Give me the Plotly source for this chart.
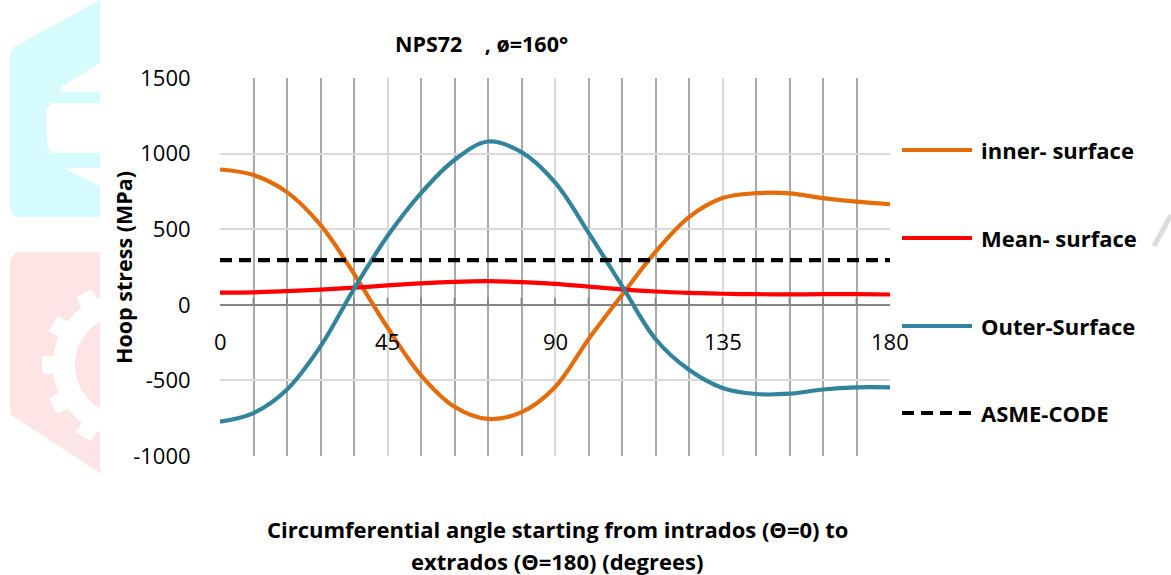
import numpy as np
import plotly.graph_objects as go

# Circumferential angle (degrees) from intrados (0) to extrados (180)
angle_deg = [0, 9, 18, 27, 36, 45, 54, 63, 72, 81, 90,
             99, 108, 117, 126, 135, 144, 153, 162, 171, 180]

# Hoop stress (MPa) on each surface
inner_surface = [895, 858, 745, 528, 205, -150, -466, -674, -755, -710, -545,
                 -228, 65, 350, 580, 706, 738, 737, 706, 682, 665]
mean_surface = [80, 82, 90, 100, 113, 128, 142, 152, 156, 150, 138,
                120, 102, 88, 79, 73, 70, 69, 70, 70, 68]
outer_surface = [-773, -716, -560, -275, 105, 455, 739, 958, 1080, 1010, 810,
                 478, 125, -226, -430, -550, -590, -588, -560, -546, -546]
asme_limit = 295

x_tick_vals = [0, 45, 90, 135, 180]
x_tick_text = ["0", "45", "90", "135", "180"]
y_tick_vals = [-1000, -500, 0, 500, 1000, 1500]
y_tick_text = ["-1000", "-500", "0", "500", "1000", "1500"]
minor_ticks = list(range(9, 180, 9))

series_names = ["inner- surface", "Mean- surface", "Outer-Surface", "ASME-CODE"]
series_colors = ["#E46C0A", "#FF0000", "#31849B", "#000000"]

FONT = "Open Sans"
W, H = 1171, 575
L, R, T, B = 220, 281, 78, 119
PW, PH = W - L - R, H - T - B
LINE_W = 4.2


def px2x(px):
    return (px - L) / PW


def py2y(py):
    return (T + PH - py) / PH


def poly_path(points):
    pts = [f"{px2x(x):.5f},{py2y(y):.5f}" for x, y in points]
    return "M " + " L ".join(pts) + " Z"


fig = go.Figure()

x_full = [angle_deg[0], angle_deg[-1]]
traces = [
    (angle_deg, inner_surface, series_colors[0], "solid", "spline"),
    (angle_deg, mean_surface, series_colors[1], "solid", "spline"),
    (angle_deg, outer_surface, series_colors[2], "solid", "spline"),
    (x_full, [asme_limit, asme_limit], series_colors[3], "12px,7px", "linear"),
]
for (xs, ys, col, dash, shape), name in zip(traces, series_names):
    fig.add_trace(go.Scatter(
        x=xs, y=ys, mode="lines", name=name, showlegend=False,
        line=dict(color=col, width=LINE_W, dash=dash, shape=shape, smoothing=1.0),
    ))

shapes = []

# faint logo watermark behind the chart
cyan = "#d6fbfd"
pink = "#fde5e5"
shapes.append(dict(type="path", xref="paper", yref="paper", layer="below", line_width=0,
                   fillcolor=cyan,
                   path=poly_path([(100, 0), (14, 47), (10, 56), (10, 208), (15, 217), (100, 217)])))
for pts in ([(100, 63), (60, 88), (60, 92), (100, 92)],
            [(52, 103), (100, 103), (100, 153), (52, 153), (47, 146), (46, 110)],
            [(63, 168), (100, 168), (100, 186)]):
    shapes.append(dict(type="path", xref="paper", yref="paper", layer="below", line_width=0,
                       fillcolor="white", path=poly_path(pts)))
shapes.append(dict(type="path", xref="paper", yref="paper", layer="below", line_width=0,
                   fillcolor=pink,
                   path=poly_path([(16, 252), (100, 252), (100, 473), (10, 414), (10, 260)])))

# gear outline (clipped at the right edge of the watermark)
cx, cy = 125, 365
gear = []
for a in np.linspace(90, 270, 181):
    rel = min(abs(((a - 180) % 30) - 30), abs((a - 180) % 30))
    r = 83 if rel < 6.5 else 72
    t = np.radians(a)
    gear.append((min(cx + r * np.cos(t), 100), cy - r * np.sin(t)))
shapes.append(dict(type="path", xref="paper", yref="paper", layer="below", line_width=0,
                   fillcolor="white", path=poly_path(gear)))
inner_circ = []
for a in np.linspace(90, 270, 91):
    t = np.radians(a)
    inner_circ.append((min(cx + 50 * np.cos(t), 100), cy - 50 * np.sin(t)))
shapes.append(dict(type="path", xref="paper", yref="paper", layer="below", line_width=0,
                   fillcolor=pink, path=poly_path(inner_circ)))
shapes.append(dict(type="line", xref="paper", yref="paper", layer="below",
                   x0=px2x(1154), y0=py2y(246), x1=px2x(1171), y1=py2y(215),
                   line=dict(color="#dcdcdc", width=5)))

# small tick marks on the zero axis line
for m in minor_ticks:
    shapes.append(dict(type="line", xref="x", yref="y", ysizemode="pixel", yanchor=0,
                       x0=m, x1=m, y0=0, y1=7, line=dict(color="#868686", width=1.8)))

# legend swatches
legend_py = [150, 238, 326, 413]
for name, col, py, dash in zip(series_names, series_colors, legend_py,
                               ["solid", "solid", "solid", "dash"]):
    shapes.append(dict(type="line", xref="paper", yref="paper",
                       x0=px2x(902), x1=px2x(972), y0=py2y(py), y1=py2y(py),
                       line=dict(color=col, width=LINE_W,
                                 dash="12px,7px" if dash == "dash" else "solid")))

annotations = []
for v, txt in zip(x_tick_vals, x_tick_text):
    annotations.append(dict(x=v, y=0, xref="x", yref="y", text=txt, showarrow=False,
                            xanchor="center", yanchor="middle", yshift=-36,
                            font=dict(family=FONT, size=22, color="#000000")))

for name, py in zip(series_names, legend_py):
    annotations.append(dict(x=px2x(979), y=py2y(py), xref="paper", yref="paper",
                            text=f"<b>{name}</b>", showarrow=False,
                            xanchor="left", yanchor="middle",
                            font=dict(family=FONT, size=22, color="#000000")))

annotations.append(dict(x=px2x(481), y=py2y(43), xref="paper", yref="paper",
                        text="<b>NPS72\u00a0\u00a0\u00a0\u00a0, ø=160°</b>", showarrow=False,
                        xanchor="center", yanchor="middle",
                        font=dict(family=FONT, size=21.5, color="#000000")))
annotations.append(dict(x=px2x(123), y=py2y(268), xref="paper", yref="paper",
                        text="<b>Hoop stress (MPa)</b>", showarrow=False, textangle=-90,
                        xanchor="center", yanchor="middle",
                        font=dict(family=FONT, size=21.5, color="#000000")))
annotations.append(dict(x=px2x(557), y=py2y(529), xref="paper", yref="paper",
                        text="<b>Circumferential angle starting from intrados (Θ=0) to</b>",
                        showarrow=False, xanchor="center", yanchor="middle",
                        font=dict(family=FONT, size=22, color="#000000")))
annotations.append(dict(x=px2x(557), y=py2y(561), xref="paper", yref="paper",
                        text="<b>extrados (Θ=180) (degrees)</b>",
                        showarrow=False, xanchor="center", yanchor="middle",
                        font=dict(family=FONT, size=22, color="#000000")))

fig.update_layout(
    width=W, height=H, autosize=False,
    margin=dict(l=L, r=R, t=T, b=B, pad=0),
    paper_bgcolor="white", plot_bgcolor="white",
    showlegend=False,
    shapes=shapes,
    annotations=annotations,
    xaxis=dict(range=[0, 180], tickvals=x_tick_vals, showticklabels=False,
               showgrid=True, gridcolor="#d9d9d9", gridwidth=1.5,
               minor=dict(tickvals=minor_ticks, showgrid=True, gridcolor="#a9a9a9",
                          gridwidth=1.5, ticks=""),
               zeroline=False, showline=False, ticks=""),
    yaxis=dict(range=[-1000, 1500], tickvals=y_tick_vals, ticktext=y_tick_text,
               showgrid=True, gridcolor="#d9d9d9", gridwidth=1.5,
               zeroline=True, zerolinecolor="#868686", zerolinewidth=1.8,
               showline=False, ticks="outside", ticklen=24, tickcolor="rgba(0,0,0,0)",
               tickfont=dict(family=FONT, size=22, color="#000000")),
)

fig.write_html("out.html")
